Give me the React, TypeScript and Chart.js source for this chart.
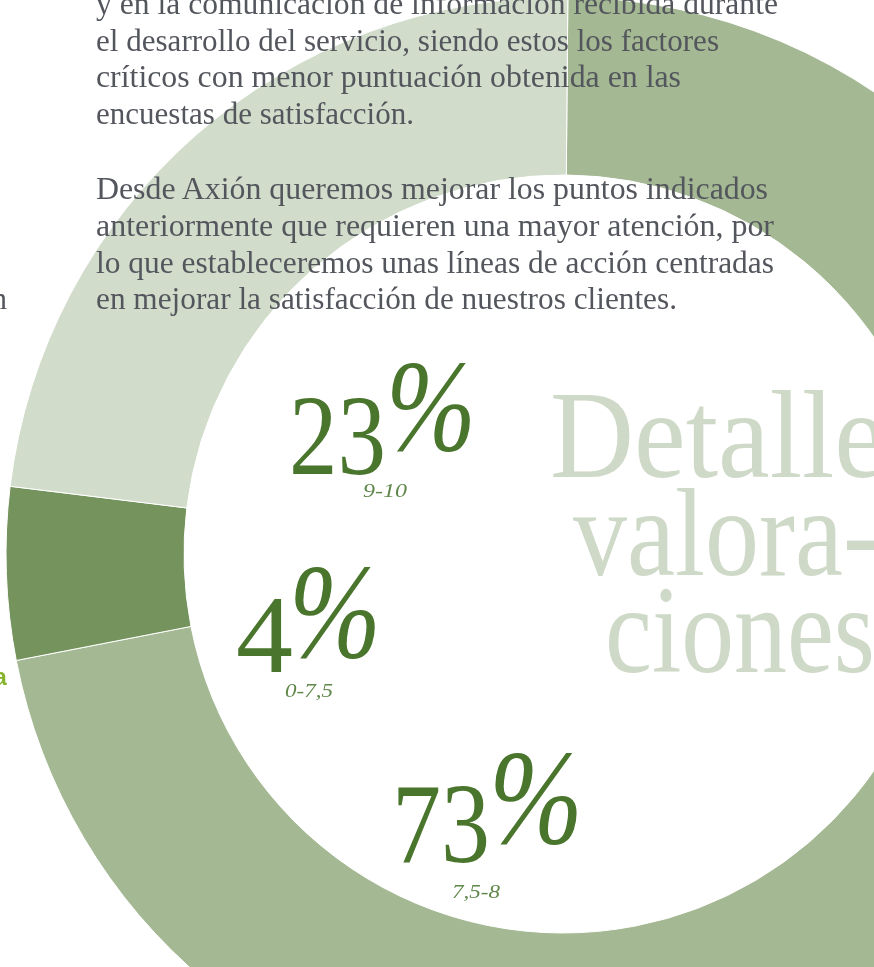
import React, { useEffect, useRef } from "react";
import { Chart, registerables } from "chart.js";

Chart.register(...registerables);

// ---- data ----
const categories = ["7,5-8", "0-7,5", "9-10"];
const shares = [71.8, 5.0, 23.2]; // slice sizes as drawn in the reference
const percentLabels = ["73", "4", "23"];
const sliceColors = ["#a4b893", "#75935c", "#d1dccb"];

const paragraphLines = [
  "y en la comunicación de información recibida durante",
  "el desarrollo del servicio, siendo estos los factores",
  "críticos con menor puntuación obtenida en las",
  "encuestas de satisfacción.",
  "Desde Axión queremos mejorar los puntos indicados",
  "anteriormente que requieren una mayor atención, por",
  "lo que estableceremos unas líneas de acción centradas",
  "en mejorar la satisfacción de nuestros clientes.",
];
const titleLines = ["Detalle", "valora-", "ciones"];

// ---- layout (positions / sizes only) ----
const CX = 563;
const CY = 554;
const R_OUT = 557;
const R_IN = 379;
const CANVAS = 1140;

const paraLayout = [
  { y: 13.9, right: 778 },
  { y: 50.7, right: 719 },
  { y: 87.4, right: 681 },
  { y: 124.1, right: 414 },
  { y: 199, right: 768 },
  { y: 235.8, right: 774 },
  { y: 272.6, right: 774 },
  { y: 309.4, right: 677 },
];
const titleLayout = [
  { x: 550, y: 477, len: 336 },
  { x: 573, y: 575, len: 306 },
  { x: 605, y: 672, len: 270 },
];
const numLayout = [
  { dx: 392, dy: 862, dl: 98, ds: 115, px: 489, py: 843, pl: 94, ps: 135, lx: 452, ly: 898, ll: 48 },
  { dx: 236, dy: 672, dl: 57, ds: 110, px: 289, py: 657, pl: 92, ps: 135, lx: 285, ly: 697, ll: 48 },
  { dx: 289, dy: 474, dl: 97, ds: 115, px: 386, py: 450, pl: 90, ps: 132, lx: 363, ly: 497, ll: 44 },
];

const SERIF = "'Liberation Serif', 'Times New Roman', serif";

export default function App() {
  const ref = useRef<HTMLCanvasElement>(null);

  useEffect(() => {
    document.body.style.margin = "0";
    const canvas = ref.current;
    if (!canvas) return;
    const chart = new Chart(canvas, {
      type: "doughnut",
      data: {
        labels: categories,
        datasets: [
          {
            data: shares,
            backgroundColor: sliceColors,
            borderColor: "#ffffff",
            borderWidth: 1,
          },
        ],
      },
      options: {
        responsive: false,
        animation: false,
        events: [],
        rotation: 0.5,
        radius: R_OUT,
        cutout: ((R_IN / R_OUT) * 100).toFixed(3) + "%",
        layout: { padding: 0 },
        plugins: {
          legend: { display: false },
          tooltip: { enabled: false },
        },
      } as any,
    });
    return () => chart.destroy();
  }, []);

  return (
    <div
      style={{
        position: "absolute",
        left: 0,
        top: 0,
        width: 874,
        height: 967,
        overflow: "hidden",
        background: "#ffffff",
      }}
    >
      <canvas
        ref={ref}
        width={CANVAS}
        height={CANVAS}
        style={{ position: "absolute", left: CX - CANVAS / 2, top: CY - CANVAS / 2 }}
      />
      <svg
        width={874}
        height={967}
        style={{ position: "absolute", left: 0, top: 0 }}
      >
        {paragraphLines.map((t, i) => (
          <text
            key={"p" + i}
            x={96}
            y={paraLayout[i].y}
            textLength={paraLayout[i].right - 96}
            lengthAdjust="spacingAndGlyphs"
            fontFamily={SERIF}
            fontSize={31}
            fill="#53565c"
          >
            {t}
          </text>
        ))}
        <text x={-8.5} y={309.4} fontFamily={SERIF} fontSize={31} fill="#53565c">
          n
        </text>
        <text
          x={-6}
          y={685}
          fontFamily="'Liberation Sans', Arial, sans-serif"
          fontWeight="bold"
          fontSize={23}
          fill="#86b42c"
        >
          a
        </text>
        {titleLines.map((t, i) => (
          <text
            key={"t" + i}
            x={titleLayout[i].x}
            y={titleLayout[i].y}
            textLength={titleLayout[i].len}
            lengthAdjust="spacingAndGlyphs"
            fontFamily={SERIF}
            fontSize={124}
            fill="#cfd9c7"
          >
            {t}
          </text>
        ))}
        {percentLabels.map((p, i) => {
          const L = numLayout[i];
          return (
            <g key={"n" + i}>
              <text
                x={L.dx}
                y={L.dy}
                textLength={L.dl}
                lengthAdjust="spacingAndGlyphs"
                fontFamily={SERIF}
                fontSize={L.ds}
                fill="#4a752d"
              >
                {p}
              </text>
              <text
                x={L.px}
                y={L.py}
                textLength={L.pl}
                lengthAdjust="spacingAndGlyphs"
                fontFamily={SERIF}
                fontStyle="italic"
                fontSize={L.ps}
                fill="#4a752d"
              >
                %
              </text>
              <text
                x={L.lx}
                y={L.ly}
                textLength={L.ll}
                lengthAdjust="spacingAndGlyphs"
                fontFamily={SERIF}
                fontStyle="italic"
                fontSize={19}
                fill="#5f874a"
              >
                {categories[i]}
              </text>
            </g>
          );
        })}
      </svg>
    </div>
  );
}
